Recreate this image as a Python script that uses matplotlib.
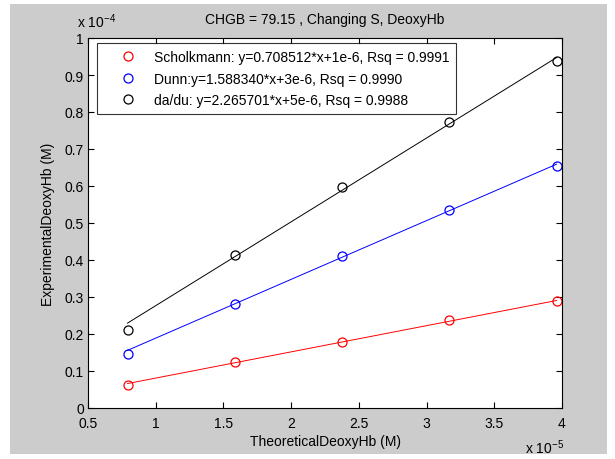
import matplotlib
matplotlib.use("Agg")
import matplotlib.pyplot as plt
from matplotlib.patches import Rectangle
import numpy as np

plt.rcParams['font.family'] = ['Liberation Sans', 'DejaVu Sans']
plt.rcParams['mathtext.default'] = 'regular'

# Data (x in units of 1e-5 M, y in units of 1e-4 M)
x_theo = [0.792, 1.584, 2.376, 3.168, 3.96]
y_scholkmann = [0.062, 0.1235, 0.179, 0.238, 0.290]
y_dunn = [0.146, 0.281, 0.410, 0.535, 0.653]
y_dadu = [0.211, 0.414, 0.598, 0.772, 0.939]

slopes = [0.708512, 1.588340, 2.265701]
intercepts = [1e-6, 3e-6, 5e-6]
labels = ["Scholkmann: y=0.708512*x+1e-6, Rsq = 0.9991",
          "Dunn:y=1.588340*x+3e-6, Rsq = 0.9990",
          "da/du: y=2.265701*x+5e-6, Rsq = 0.9988"]
colors = ['#ff0000', '#0000ff', '#000000']

FS = 10

fig = plt.figure(figsize=(6.15, 4.6), dpi=100)
fig.patch.set_facecolor('white')
fig.patches.append(Rectangle((10/615, 5/460), 597/615, 450/460, transform=fig.transFigure,
                             facecolor='#cccccc', edgecolor='none', zorder=-10))

ax = fig.add_axes([88/615, 51/460, 474/615, 370/460])
ax.set_facecolor('white')

xs = np.array(x_theo)
series = [y_scholkmann, y_dunn, y_dadu]
handles = []
for ys, m, b, c, lab in zip(series, slopes, intercepts, colors, labels):
    # fitted line: y(M) = m*x(M) + b ; convert to plotting units
    xl = np.array([xs.min(), xs.max()])
    yl = (m * xl * 1e-5 + b) / 1e-4
    ax.plot(xl, yl, color=c, lw=0.7)
    h, = ax.plot(xs, ys, linestyle='none', marker='o', markersize=6.5,
                 markerfacecolor='none', markeredgecolor=c, markeredgewidth=0.9, label=lab)
    handles.append(h)

ax.set_xlim(0.5, 4)
ax.set_ylim(0, 1)
ax.set_xticks([0.5, 1, 1.5, 2, 2.5, 3, 3.5, 4])
ax.set_xticklabels(['0.5', '1', '1.5', '2', '2.5', '3', '3.5', '4'])
ax.set_yticks(np.arange(0, 1.01, 0.1))
ax.set_yticklabels(['0', '0.1', '0.2', '0.3', '0.4', '0.5', '0.6', '0.7', '0.8', '0.9', '1'])
ax.tick_params(direction='in', length=4, width=0.8, top=True, right=True,
               labelsize=FS, colors='#000000')
ax.tick_params(axis='x', pad=6)
ax.tick_params(axis='y', pad=3)
for s in ax.spines.values():
    s.set_linewidth(0.8)

ax.set_xlabel('TheoreticalDeoxyHb (M)', fontsize=FS, labelpad=3)
ax.set_ylabel('ExperimentalDeoxyHb (M)', fontsize=FS, labelpad=7)
ax.set_title('CHGB = 79.15 , Changing S, DeoxyHb', fontsize=FS, pad=11)

fig.text(77/615, 1 - 22/460, r'x 10$^{-4}$', fontsize=FS, va='center', ha='left')
fig.text(525/615, 1 - 448/460, r'x 10$^{-5}$', fontsize=FS, va='center', ha='left')

leg = ax.legend(handles=handles, loc='upper left', bbox_to_anchor=(9/474, 1 - 5/370),
                fontsize=FS, frameon=True, fancybox=False, edgecolor='black',
                handlelength=3.4, handletextpad=0.2, borderpad=0.5, labelspacing=0.55,
                borderaxespad=0)
leg.get_frame().set_linewidth(0.8)

fig.savefig('out.png', dpi=100, facecolor=fig.get_facecolor())
